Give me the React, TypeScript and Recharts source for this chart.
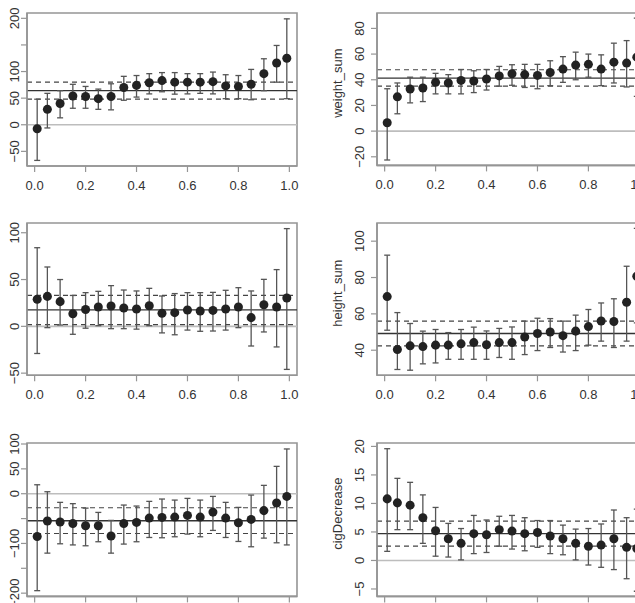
import React from 'react';
import { ComposedChart, Scatter, ErrorBar, XAxis, YAxis, ReferenceLine, ReferenceArea } from 'recharts';

const probs = [0.01, 0.05, 0.1, 0.15, 0.2, 0.25, 0.3, 0.35, 0.4, 0.45, 0.5, 0.55, 0.6, 0.65, 0.7, 0.75, 0.8, 0.85, 0.9, 0.95, 0.99];
const xTicks = [0, 0.2, 0.4, 0.6, 0.8, 1.0];

// Panel A (top-left)
const aEst = [-7.5, 29, 40, 54, 53, 49, 53, 70, 74, 79, 83, 80, 80, 80, 81, 73, 72, 76, 96, 116, 125];
const aHi = [48, 59, 64, 76, 72, 67, 77, 91, 92.5, 96, 98, 98, 96, 96, 99, 94, 92.5, 104, 124, 149, 199];
const aLo = [-67, -6, 13, 31, 31, 29, 28, 46, 52, 58, 62, 57.5, 58, 59, 58, 49, 49, 47, 64, 80, 49];
const aLines = [64, 48, 80];
const aTicks = [-50, 0, 50, 100, 150, 200];
const aLabels = [-50, 0, 50, 100, 200];

// Panel B (top-right): weight_sum
const bEst = [6.5, 26.7, 32.8, 33.6, 38, 37.5, 39.5, 39, 40.6, 43, 44.7, 44, 43.4, 45.7, 48.3, 51.4, 52, 48.3, 53.7, 53, 57.6];
const bHi = [33, 37.5, 42, 42, 45, 44, 48, 47, 48, 50.4, 51.7, 52, 52, 54.8, 58, 61.5, 60, 59.4, 68.5, 70.5, 88];
const bLo = [-22.5, 13.5, 22, 23, 29, 29, 29, 30, 32, 35, 35.7, 34, 33, 35.4, 38, 40, 42, 35.4, 37.5, 34.4, 27];
const bLines = [41.3, 35.1, 47.8];
const bTicks = [-20, 0, 20, 40, 60, 80];

// Panel C (middle-left)
const cEst = [28.9, 32, 26.4, 13.5, 18, 20.7, 21.7, 19.6, 18.5, 22, 14, 14.6, 17.5, 16.4, 17, 18.5, 20.7, 9.3, 23, 20.7, 30.3];
const cHi = [84, 63.4, 50, 33, 36, 37.4, 43.5, 38.8, 37.8, 40.6, 32.4, 35, 36, 36, 36.3, 38.5, 41.3, 37.8, 50.2, 60.6, 104.4];
const cLo = [-29, -1.4, 1.4, -8.5, -2, 0.7, -2.5, -2.5, -3, 0.7, -7, -9, -4, -5.3, -5, -4, -1.4, -21, -6, -22, -46];
const cLines = [17.5, 1.8, 33.1];
const cTicks = [-50, 0, 50, 100];

// Panel D (middle-right): height_sum
const dEst = [69.5, 40.4, 42.4, 42, 42.8, 42.8, 43.5, 44.2, 43, 44.2, 44.2, 47.3, 49.2, 50, 48, 50.5, 53, 56.1, 55.8, 66.4, 80.7];
const dHi = [92.3, 60.7, 54.7, 50.5, 51.4, 49.7, 51.4, 52.7, 50.6, 52, 52.8, 56, 57.6, 57.4, 56, 59.3, 62.4, 66, 68.3, 86.2, 107];
const dLo = [51, 29.4, 29, 32.5, 33, 35, 35, 35, 35, 36, 35, 37.6, 39.8, 41.5, 39, 39.8, 42.8, 45, 41.5, 45, 55];
const dLines = [49.2, 42.4, 56];
const dTicks = [40, 60, 80, 100];

// Panel E (bottom-left)
const eEst = [-86, -55, -57, -60, -64.4, -64.4, -85, -60, -57.7, -49, -47.7, -47, -43.6, -47, -37, -49, -58.4, -51.7, -34, -18.8, -5.4];
const eHi = [18, 4, -17.4, -20, -29, -37.6, -53.7, -22.8, -24.8, -15.4, -10.7, -12.8, -9.4, -12.8, -5.4, -17.4, -27.5, -2.7, 16.8, 55, 90];
const eLo = [-195, -119.5, -100.7, -103, -104.7, -96.6, -119.5, -101.3, -96.6, -88, -88.6, -86.6, -81.2, -86.6, -73.8, -88, -96, -106.7, -89.3, -98.7, -103];
const eLines = [-54.4, -80, -28.2];
const eTicks = [-200, -150, -100, -50, 0, 50, 100];
const eLabels = [-200, -100, 0, 50, 100];

// Panel F (bottom-right): cigDecrease
const fEst = [10.8, 10.1, 9.7, 7.5, 5.2, 3.8, 3, 4.7, 4.5, 5.4, 5.15, 4.7, 4.9, 4.3, 3.8, 3, 2.5, 2.7, 3.8, 2.3, 2.1];
const fHi = [19.6, 14.4, 13.7, 11.5, 9.3, 6.5, 5.6, 7.9, 7.1, 7.75, 7.9, 7.5, 7, 7, 6.2, 5.5, 5.6, 6.4, 8.85, 7.5, 9];
const fLo = [1.6, 5.4, 5.4, 3, 0.75, 0.6, 0.1, 1.2, 1.4, 2.5, 2, 1.7, 2.3, 1.2, 1, 0.1, -0.8, -1.2, -1.6, -3.2, -5.4];
const fLines = [4.7, 2.5, 6.9];
const fTicks = [-5, 0, 5, 10, 15, 20];

const FONT = '"Liberation Sans", Arial, Helvetica, sans-serif';
const BOX = '#959595';
const TXT = '#333333';
const X_DOMAIN: [number, number] = [-0.03, 1.03];

function buildRows(est: number[], lo: number[], hi: number[]) {
  return probs.map((x, i) => ({ x, y: est[i], err: [est[i] - lo[i], hi[i] - est[i]] }));
}

const XTick = (props: any) => {
  const { x, y, payload } = props;
  return (
    <text x={x} y={y} dy={15.5} textAnchor="middle" fill={TXT} fontSize={13} fontFamily={FONT}>
      {Number(payload.value).toFixed(1)}
    </text>
  );
};

const YTick = (props: any) => {
  const { x, y, payload, show, shift } = props;
  if (show && !show.includes(payload.value)) return null;
  const xx = x + (shift || 0);
  return (
    <text x={xx} y={y} transform={`rotate(-90, ${xx}, ${y})`} textAnchor="middle" fill={TXT} fontSize={13} fontFamily={FONT}>
      {payload.value < 0 ? '\u2212' + Math.abs(payload.value) : String(payload.value)}
    </text>
  );
};

type PanelProps = {
  left: number;
  top: number;
  axisW: number;
  plotH: number;
  est: number[];
  lo: number[];
  hi: number[];
  lines: number[];
  yDomain: [number, number];
  yTicks: number[];
  yLabels?: number[];
  title?: string;
  tickShift: number;
};

function Panel({ left, top, axisW, plotH, est, lo, hi, lines, yDomain, yTicks, yLabels, title, tickShift }: PanelProps) {
  const plotW = 270;
  const mTop = 20;
  const mRight = 5;
  const xAxisH = 30;
  const width = axisW + plotW + mRight;
  const height = mTop + plotH + xAxisH;
  const rows = buildRows(est, lo, hi);
  const cy = mTop + plotH / 2 - 6;
  const label = title
    ? () => (
        <text x={25} y={cy} transform={`rotate(-90, 25, ${cy})`} textAnchor="middle" fill={TXT} fontSize={13} fontFamily={FONT}>
          {title}
        </text>
      )
    : undefined;
  return (
    <div style={{ position: 'absolute', left, top: top - mTop }}>
      <ComposedChart width={width} height={height} data={rows} margin={{ top: mTop, right: mRight, bottom: 0, left: 0 }}>
        <XAxis
          xAxisId="b"
          dataKey="x"
          type="number"
          domain={X_DOMAIN}
          ticks={xTicks}
          interval={0}
          tickSize={6}
          tickMargin={2}
          height={xAxisH}
          allowDataOverflow
          axisLine={{ stroke: BOX, strokeWidth: 1.6 }}
          tickLine={{ stroke: BOX, strokeWidth: 1.2 }}
          tick={<XTick />}
        />
        <YAxis
          yAxisId="l"
          dataKey="y"
          type="number"
          domain={yDomain}
          ticks={yTicks}
          interval={0}
          width={axisW}
          tickSize={6}
          tickMargin={2}
          allowDataOverflow
          axisLine={{ stroke: BOX, strokeWidth: 1.6 }}
          tickLine={{ stroke: BOX, strokeWidth: 1.2 }}
          tick={<YTick show={yLabels} shift={tickShift} />}
          label={label}
        />
        <ReferenceArea
          xAxisId="b"
          yAxisId="l"
          x1={X_DOMAIN[0]}
          x2={X_DOMAIN[1]}
          y1={yDomain[0]}
          y2={yDomain[1]}
          fill="none"
          fillOpacity={0}
          stroke={BOX}
          strokeWidth={1.6}
          ifOverflow="visible"
        />
        <ReferenceLine xAxisId="b" yAxisId="l" y={0} stroke="#bdbdbd" strokeWidth={1.6} />
        <ReferenceLine xAxisId="b" yAxisId="l" y={lines[0]} stroke="#333" strokeWidth={1.3} />
        <ReferenceLine xAxisId="b" yAxisId="l" y={lines[1]} stroke="#444" strokeWidth={1.2} strokeDasharray="5 4" />
        <ReferenceLine xAxisId="b" yAxisId="l" y={lines[2]} stroke="#444" strokeWidth={1.2} strokeDasharray="5 4" />
        <Scatter xAxisId="b" yAxisId="l" dataKey="y" fill="#222" isAnimationActive={false}>
          <ErrorBar dataKey="err" direction="y" width={3} stroke="#555" strokeWidth={1.3} isAnimationActive={false} />
        </Scatter>
      </ComposedChart>
    </div>
  );
}

export default function App() {
  return (
    <div style={{ position: 'absolute', left: 0, top: 0, width: 635, height: 603, overflow: 'hidden', background: '#fff' }}>
      <Panel left={0} top={13} axisW={27} plotH={153} est={aEst} lo={aLo} hi={aHi} lines={aLines}
        yDomain={[-77.5, 210]} yTicks={aTicks} yLabels={aLabels} tickShift={0} />
      <Panel left={316.7} top={13.3} axisW={60} plotH={152.4} est={bEst} lo={bLo} hi={bHi} lines={bLines}
        yDomain={[-26.7, 92]} yTicks={bTicks} title="weight_sum" tickShift={-4.7} />
      <Panel left={0} top={222.7} axisW={27} plotH={152.3} est={cEst} lo={cLo} hi={cHi} lines={cLines}
        yDomain={[-52.3, 110.4]} yTicks={cTicks} tickShift={0} />
      <Panel left={316.7} top={222.7} axisW={60} plotH={152.3} est={dEst} lo={dLo} hi={dHi} lines={dLines}
        yDomain={[26.2, 110]} yTicks={dTicks} title="height_sum" tickShift={-4.7} />
      <Panel left={0} top={443.3} axisW={27} plotH={153.4} est={eEst} lo={eLo} hi={eHi} lines={eLines}
        yDomain={[-206.5, 102]} yTicks={eTicks} yLabels={eLabels} tickShift={0} />
      <Panel left={316.7} top={443.3} axisW={60} plotH={153.4} est={fEst} lo={fLo} hi={fHi} lines={fLines}
        yDomain={[-6.3, 20.6]} yTicks={fTicks} title="cigDecrease" tickShift={-4.7} />
    </div>
  );
}
